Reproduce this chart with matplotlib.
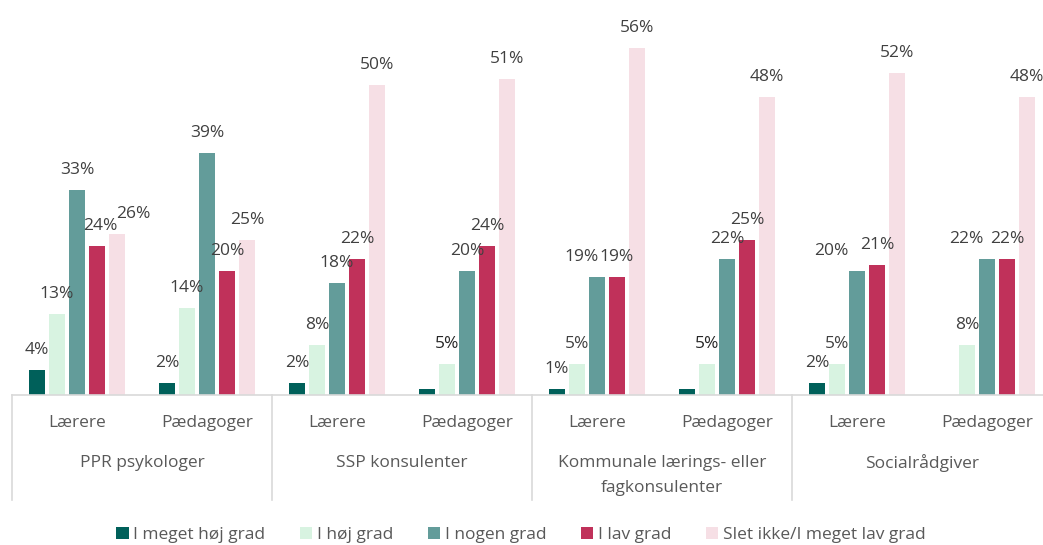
import numpy as np
import matplotlib
matplotlib.use('Agg')
import matplotlib.pyplot as plt
from matplotlib.patches import Patch

plt.rcParams['font.family'] = ['Open Sans', 'DejaVu Sans']

# data
groups = ['PPR psykologer', 'SSP konsulenter', 'Kommunale lærings- eller\nfagkonsulenter', 'Socialrådgiver']
subgroups = ['Lærere', 'Pædagoger']
series = ['I meget høj grad', 'I høj grad', 'I nogen grad', 'I lav grad', 'Slet ikke/I meget lav grad']

meget_hoej = [4, 2, 2, 1, 1, 1, 2, 0]
hoej = [13, 14, 8, 5, 5, 5, 5, 8]
nogen = [33, 39, 18, 20, 19, 22, 20, 22]
lav = [24, 20, 22, 24, 19, 25, 21, 22]
slet_ikke = [26, 25, 50, 51, 56, 48, 52, 48]

# labels that were removed in the original chart (series index, bar index)
hidden = {(0, 3), (0, 5), (0, 7)}
# labels that were nudged sideways in the original (pixels)
nudge = {(4, 0): 16, (3, 0): 3, (2, 4): -15, (2, 6): -26, (2, 7): -21}
dark_labels = {(1, 3), (1, 5)}

colors = ['#00605A', '#D8F3E1', '#639C9A', '#C0315A', '#F6DFE5']

values = [meget_hoej, hoej, nogen, lav, slet_ikke]

fig = plt.figure(figsize=(10.43, 5.45), dpi=100)
ax = fig.add_axes([12 / 1043, 150 / 545, 1040 / 1043, 372 / 545])

n = len(meget_hoej)
centers = np.arange(n) + 0.5
pitch = 20 / 130
width = 16 / 130

for i, (vals, col) in enumerate(zip(values, colors)):
    x = centers + (i - 2) * pitch
    ax.bar(x, np.array(vals) / 100, width=width, color=col, zorder=2)
    for j, v in enumerate(vals):
        if v == 0 or (i, j) in hidden:
            continue
        dx = nudge.get((i, j), 0) * 0.72
        tc = '#262626' if (i, j) in dark_labels else '#404040'
        ax.annotate(f'{v}%', (x[j], v / 100), xytext=(dx, 11.5),
                    textcoords='offset points', ha='center', va='baseline',
                    fontsize=12.5, color=tc, annotation_clip=False)

ax.set_xlim(0, n)
ax.set_ylim(0, 0.6)
ax.set_xticks([])
ax.set_yticks([])
for s in ['top', 'left', 'right']:
    ax.spines[s].set_visible(False)
ax.spines['bottom'].set_color('#D9D9D9')
ax.spines['bottom'].set_linewidth(1.2)

# multi-level category axis
tr = ax.get_xaxis_transform()
for j in range(n):
    ax.text(centers[j], -28 / 372, subgroups[j % 2], transform=tr, ha='center', va='center',
            fontsize=12.5, color='#595959')
for g, name in enumerate(groups):
    ypos = -68 / 372 if '\n' not in name else -80.5 / 372
    ax.text(2 * g + 1, ypos, name, transform=tr, ha='center', va='center',
            fontsize=12.5, color='#595959', linespacing=1.7)
for g in range(len(groups) + 1):
    ax.plot([2 * g, 2 * g], [0, -105 / 372], transform=tr, color='#D9D9D9',
            lw=1.2, clip_on=False)

handles = [Patch(facecolor=c, edgecolor='none') for c in colors]
fig.legend(handles, series, loc='center', bbox_to_anchor=(521 / 1043, 1 - 535 / 545),
           ncol=5, frameon=False, fontsize=12.5, handlelength=0.7, handleheight=0.7,
           handletextpad=0.25, columnspacing=2.02, labelcolor='#595959')

fig.savefig('out.png', dpi=100)
